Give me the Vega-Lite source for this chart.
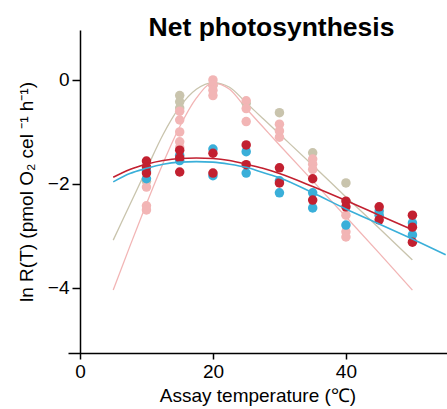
{
  "$schema": "https://vega.github.io/schema/vega-lite/v6.json",
  "width": 379,
  "height": 323,
  "autosize": {"type": "none"},
  "padding": {"left": 68, "top": 30, "right": 0, "bottom": 56},
  "background": "white",
  "config": {
    "view": {"stroke": null},
    "font": "Liberation Sans",
    "axis": {"grid": false, "domainColor": "black", "tickColor": "black", "labelColor": "black", "titleColor": "black", "labelFont": "Liberation Sans", "titleFont": "Liberation Sans", "labelFontSize": 19, "titleFontSize": 19, "titleFontWeight": "normal", "domainWidth": 1.5, "tickWidth": 1.5}
  },
  "title": {"text": "Net photosynthesis", "fontSize": 26.5, "fontWeight": "bold", "font": "Liberation Sans", "color": "black", "anchor": "middle", "offset": 0, "baseline": "alphabetic", "dy": 32, "dx": 14},
  "datasets": {
    "curves": [
      {"group": "beige", "temp": 5, "lnR": -3.08}, {"group": "beige", "temp": 7.5, "lnR": -2.4}, {"group": "beige", "temp": 10, "lnR": -1.72}, {"group": "beige", "temp": 12.5, "lnR": -1.05}, {"group": "beige", "temp": 15, "lnR": -0.52}, {"group": "beige", "temp": 17.5, "lnR": -0.18}, {"group": "beige", "temp": 20, "lnR": -0.05}, {"group": "beige", "temp": 22.5, "lnR": -0.14}, {"group": "beige", "temp": 25, "lnR": -0.44}, {"group": "beige", "temp": 27.5, "lnR": -0.74}, {"group": "beige", "temp": 30, "lnR": -1.04}, {"group": "beige", "temp": 35, "lnR": -1.64}, {"group": "beige", "temp": 40, "lnR": -2.25}, {"group": "beige", "temp": 45, "lnR": -2.85}, {"group": "beige", "temp": 50, "lnR": -3.46},
      {"group": "pink", "temp": 5, "lnR": -4.04}, {"group": "pink", "temp": 7.5, "lnR": -3.2}, {"group": "pink", "temp": 10, "lnR": -2.38}, {"group": "pink", "temp": 12.5, "lnR": -1.6}, {"group": "pink", "temp": 15, "lnR": -0.9}, {"group": "pink", "temp": 17.5, "lnR": -0.35}, {"group": "pink", "temp": 20, "lnR": -0.06}, {"group": "pink", "temp": 22.5, "lnR": -0.18}, {"group": "pink", "temp": 25, "lnR": -0.55}, {"group": "pink", "temp": 27.5, "lnR": -0.9}, {"group": "pink", "temp": 30, "lnR": -1.25}, {"group": "pink", "temp": 35, "lnR": -1.94}, {"group": "pink", "temp": 40, "lnR": -2.63}, {"group": "pink", "temp": 45, "lnR": -3.33}, {"group": "pink", "temp": 50, "lnR": -4.04},
      {"group": "blue", "temp": 5, "lnR": -1.96}, {"group": "blue", "temp": 7.5, "lnR": -1.8}, {"group": "blue", "temp": 10, "lnR": -1.7}, {"group": "blue", "temp": 12.5, "lnR": -1.62}, {"group": "blue", "temp": 15, "lnR": -1.58}, {"group": "blue", "temp": 17.5, "lnR": -1.57}, {"group": "blue", "temp": 20, "lnR": -1.58}, {"group": "blue", "temp": 22.5, "lnR": -1.62}, {"group": "blue", "temp": 25, "lnR": -1.68}, {"group": "blue", "temp": 27.5, "lnR": -1.78}, {"group": "blue", "temp": 30, "lnR": -1.88}, {"group": "blue", "temp": 35, "lnR": -2.17}, {"group": "blue", "temp": 40, "lnR": -2.48}, {"group": "blue", "temp": 45, "lnR": -2.77}, {"group": "blue", "temp": 50, "lnR": -3.06}, {"group": "blue", "temp": 55, "lnR": -3.36},
      {"group": "red", "temp": 5, "lnR": -1.87}, {"group": "red", "temp": 7.5, "lnR": -1.72}, {"group": "red", "temp": 10, "lnR": -1.62}, {"group": "red", "temp": 12.5, "lnR": -1.55}, {"group": "red", "temp": 15, "lnR": -1.51}, {"group": "red", "temp": 17.5, "lnR": -1.5}, {"group": "red", "temp": 20, "lnR": -1.51}, {"group": "red", "temp": 22.5, "lnR": -1.55}, {"group": "red", "temp": 25, "lnR": -1.62}, {"group": "red", "temp": 27.5, "lnR": -1.7}, {"group": "red", "temp": 30, "lnR": -1.8}, {"group": "red", "temp": 35, "lnR": -2.05}, {"group": "red", "temp": 40, "lnR": -2.32}, {"group": "red", "temp": 45, "lnR": -2.6}, {"group": "red", "temp": 50, "lnR": -2.88}
    ],
    "obs": [
      {"group": "beige", "temp": 10, "lnR": -1.95}, {"group": "beige", "temp": 15, "lnR": -0.3}, {"group": "beige", "temp": 15, "lnR": -0.42}, {"group": "beige", "temp": 15, "lnR": -0.54}, {"group": "beige", "temp": 20, "lnR": -0.1}, {"group": "beige", "temp": 25, "lnR": -0.45}, {"group": "beige", "temp": 30, "lnR": -0.63}, {"group": "beige", "temp": 35, "lnR": -1.4}, {"group": "beige", "temp": 40, "lnR": -1.98},
      {"group": "pink", "temp": 10, "lnR": -2.06}, {"group": "pink", "temp": 10, "lnR": -2.42}, {"group": "pink", "temp": 10, "lnR": -2.5},
      {"group": "pink", "temp": 15, "lnR": -0.6}, {"group": "pink", "temp": 15, "lnR": -0.77}, {"group": "pink", "temp": 15, "lnR": -1.0}, {"group": "pink", "temp": 15, "lnR": -1.19}, {"group": "pink", "temp": 15, "lnR": -1.3},
      {"group": "pink", "temp": 20, "lnR": 0.0}, {"group": "pink", "temp": 20, "lnR": -0.1}, {"group": "pink", "temp": 20, "lnR": -0.2}, {"group": "pink", "temp": 20, "lnR": -0.3},
      {"group": "pink", "temp": 25, "lnR": -0.4}, {"group": "pink", "temp": 25, "lnR": -0.55}, {"group": "pink", "temp": 25, "lnR": -0.8},
      {"group": "pink", "temp": 30, "lnR": -0.85}, {"group": "pink", "temp": 30, "lnR": -0.98}, {"group": "pink", "temp": 30, "lnR": -1.1},
      {"group": "pink", "temp": 35, "lnR": -1.52}, {"group": "pink", "temp": 35, "lnR": -1.62}, {"group": "pink", "temp": 35, "lnR": -1.72},
      {"group": "pink", "temp": 40, "lnR": -2.6}, {"group": "pink", "temp": 40, "lnR": -2.92}, {"group": "pink", "temp": 40, "lnR": -3.02},
      {"group": "blue", "temp": 10, "lnR": -1.75}, {"group": "blue", "temp": 10, "lnR": -1.9},
      {"group": "blue", "temp": 15, "lnR": -1.45}, {"group": "blue", "temp": 15, "lnR": -1.55},
      {"group": "blue", "temp": 20, "lnR": -1.33}, {"group": "blue", "temp": 20, "lnR": -1.84},
      {"group": "blue", "temp": 25, "lnR": -1.38}, {"group": "blue", "temp": 25, "lnR": -1.79},
      {"group": "blue", "temp": 30, "lnR": -1.94}, {"group": "blue", "temp": 30, "lnR": -2.17},
      {"group": "blue", "temp": 35, "lnR": -2.17}, {"group": "blue", "temp": 35, "lnR": -2.46},
      {"group": "blue", "temp": 40, "lnR": -2.79},
      {"group": "blue", "temp": 45, "lnR": -2.6}, {"group": "blue", "temp": 45, "lnR": -2.52},
      {"group": "blue", "temp": 50, "lnR": -2.98}, {"group": "blue", "temp": 50, "lnR": -2.75},
      {"group": "red", "temp": 10, "lnR": -1.56}, {"group": "red", "temp": 10, "lnR": -1.67}, {"group": "red", "temp": 10, "lnR": -1.79},
      {"group": "red", "temp": 15, "lnR": -1.35}, {"group": "red", "temp": 15, "lnR": -1.5}, {"group": "red", "temp": 15, "lnR": -1.77},
      {"group": "red", "temp": 20, "lnR": -1.41}, {"group": "red", "temp": 20, "lnR": -1.79},
      {"group": "red", "temp": 25, "lnR": -1.25}, {"group": "red", "temp": 25, "lnR": -1.63},
      {"group": "red", "temp": 30, "lnR": -1.69}, {"group": "red", "temp": 30, "lnR": -1.98},
      {"group": "red", "temp": 35, "lnR": -1.9}, {"group": "red", "temp": 35, "lnR": -2.31},
      {"group": "red", "temp": 40, "lnR": -2.33}, {"group": "red", "temp": 40, "lnR": -2.44},
      {"group": "red", "temp": 45, "lnR": -2.44}, {"group": "red", "temp": 45, "lnR": -2.69},
      {"group": "red", "temp": 50, "lnR": -2.6}, {"group": "red", "temp": 50, "lnR": -2.83}, {"group": "red", "temp": 50, "lnR": -3.12}
    ]
  },
  "encoding": {
    "x": {"field": "temp", "type": "quantitative", "scale": {"domain": [-1.8, 55.2], "nice": false, "zero": false},
      "axis": {"title": "Assay temperature (℃)", "values": [0, 20, 40], "tickSize": 6, "labelPadding": 3, "titlePadding": 5, "labelFlush": false}},
    "y": {"field": "lnR", "type": "quantitative", "scale": {"domain": [-5.25, 0.96], "nice": false, "zero": false},
      "axis": {"title": "ln R(T) (pmol O₂ cel ⁻¹ h⁻¹)", "values": [0, -2, -4], "tickSize": 8, "labelPadding": 3, "offset": -12, "titlePadding": 11, "labelFlush": false}},
    "color": {"field": "group", "type": "nominal", "legend": null,
      "scale": {"domain": ["beige", "pink", "blue", "red"], "range": ["#c9c4ad", "#f2b5b5", "#3aafd9", "#c22030"]}}
  },
  "layer": [
    {"data": {"name": "curves"}, "transform": [{"filter": "datum.group == 'beige' || datum.group == 'pink'"}],
     "mark": {"type": "line", "interpolate": "monotone", "strokeWidth": 1.3},
     "encoding": {"detail": {"field": "group"}}},
    {"data": {"name": "obs"},
     "mark": {"type": "circle", "size": 90, "opacity": 1}},
    {"data": {"name": "curves"}, "transform": [{"filter": "datum.group == 'blue' || datum.group == 'red'"}],
     "mark": {"type": "line", "interpolate": "monotone", "strokeWidth": 1.6},
     "encoding": {"detail": {"field": "group"}}}
  ]
}
